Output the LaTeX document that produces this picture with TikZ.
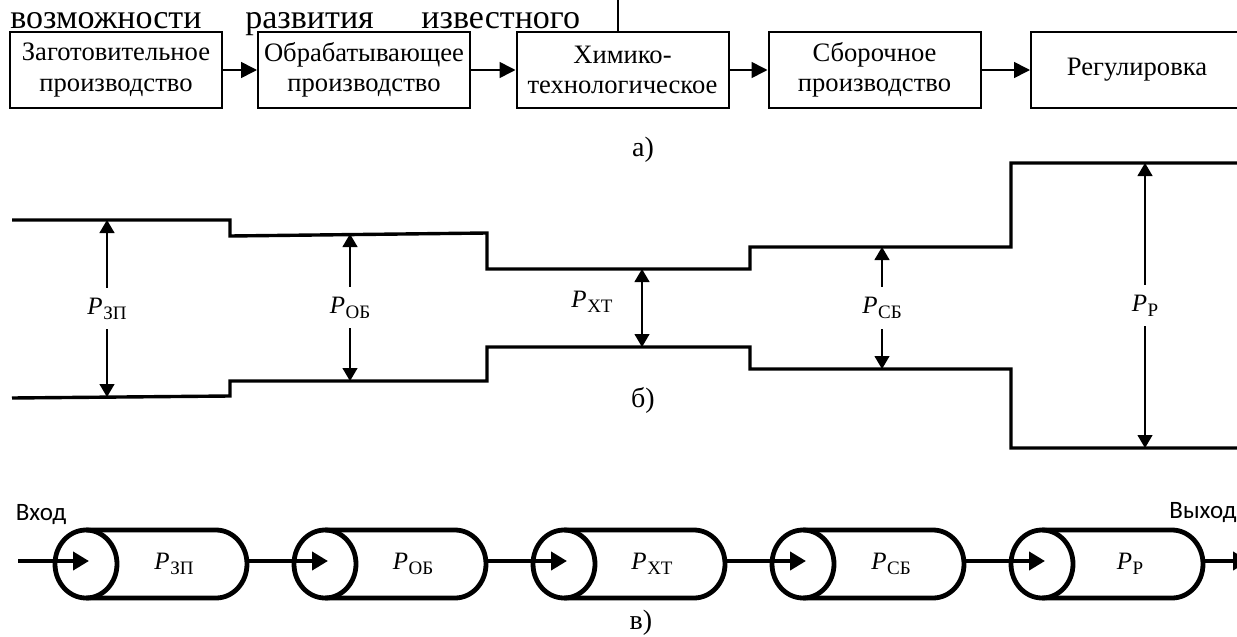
\documentclass[tikz,border=0pt]{standalone}
\usepackage{fontspec}
\setmainfont{Liberation Serif}
\newfontfamily\sanslabel{Carlito}
\usetikzlibrary{positioning,arrows.meta}

\newcommand{\Pidx}[1]{\textit{P}\kern0.3pt\raisebox{-0.45ex}{\fontsize{9.5}{10}\selectfont #1}}

\begin{document}
\begin{tikzpicture}[x=0.5pt,y=-0.5pt,
  stage/.style={draw,line width=1pt,minimum width=106pt,minimum height=38pt,inner sep=1pt,align=center,font=\fontsize{13.3}{15.3}\selectfont},
  stagelink/.style={-{Triangle[length=8pt,width=8pt]},line width=0.8pt},
  contour/.style={line width=1.7pt,line join=miter},
  dimarrow/.style={{Triangle[length=6.5pt,width=7.5pt]}-{Triangle[length=6.5pt,width=7.5pt]},line width=0.6pt},
  plabel/.style={fill=white,inner xsep=1pt,inner ysep=5pt,font=\fontsize{12.5}{14}\selectfont},
  pipe/.style={line width=2.4pt},
  flow/.style={-{Triangle[length=8pt,width=9pt]},line width=2.4pt},
  sublbl/.style={font=\fontsize{14}{16}\selectfont}]
\useasboundingbox (0,0) rectangle (1237,637);
\clip (0,0) rectangle (1237,637);

% text line above the scheme
\node[anchor=base west,inner sep=0,font=\fontsize{17}{20}\selectfont] (w1) at (10,28) {возможности};
\node[anchor=base west,inner sep=0,font=\fontsize{17}{20}\selectfont] (w2) at (245,28) {развития};
\node[anchor=base west,inner sep=0,font=\fontsize{17}{20}\selectfont] (w3) at (421,28) {известного};

% a) production stages
\node[stage] (zp) at (116,70) {Заготовительное\\производство};
\node[stage] (ob) at (364,70) {Обрабатывающее\\производство};
\node[stage] (hx) at (622.5,70) {Химико-\\технологическое};
\node[stage] (sb) at (874.5,70) {Сборочное\\производство};
\node[stage] (rg) at (1137,70) {Регулировка};
\draw[stagelink] (zp) -- (ob);
\draw[stagelink] (ob) -- (hx);
\draw[stagelink] (hx) -- (sb);
\draw[stagelink] (sb) -- (rg);
\coordinate (topedge) at (618,0);
\draw[line width=1pt] (topedge) -- (topedge |- hx.north);
\node[sublbl] (capa) at (643,150) {а)};

% b) capacity profile
\draw[contour] (12,220) -- (230,220) -- (230,236) -- (487,233) -- (487,269) -- (750,269)
  -- (750,247) -- (1011,247) -- (1011,163) -- (1240,163);
\draw[contour] (12,398) -- (230,396) -- (230,381) -- (487,381) -- (487,347) -- (750,347)
  -- (750,369) -- (1011,369) -- (1011,448) -- (1240,448);
\foreach \n/\x/\ya/\yb/\lab in {zp/107/220/397/ЗП, ob/350/234/381/ОБ, sb/882/247/369/СБ, rg/1145/163/448/Р}{
  \coordinate (\n T) at (\x,\ya);
  \coordinate (\n B) at (\x,\yb);
  \draw[dimarrow] (\n T) -- (\n B) node[midway,plabel] (\n P) {\Pidx{\lab}};
}
\coordinate (hxT) at (642,269);
\coordinate (hxB) at (642,347);
\draw[dimarrow] (hxT) -- (hxB);
\node[plabel] (hxP) at (592,302) {\Pidx{ХТ}};
\node[sublbl] (capb) at (643,400) {б)};

% c) chain of stages
\foreach \i/\lab in {0/ЗП,1/ОБ,2/ХТ,3/СБ,4/Р}{
  \pgfmathsetmacro\cx{86+239*\i}
  \draw[pipe] (\cx,564) ellipse [x radius=31,y radius=34];
  \draw[pipe] (\cx,530) -- (\cx+130,530) arc[start angle=-90,end angle=90,x radius=31,y radius=34] -- (\cx,598);
  \coordinate (in\i) at (\cx+3,561);
  \coordinate (out\i) at (\cx+161,561);
  \node[font=\fontsize{12.5}{14}\selectfont] (lab\i) at (\cx+88,564) {\Pidx{\lab}};
}
\coordinate (entry) at (18,561);
\coordinate (exit) at (1249,561);
\draw[flow] (entry) -- (in0);
\foreach \i [evaluate=\i as \j using int(\i+1)] in {0,...,3}
  \draw[flow] (out\i) -- (in\j);
\draw[flow] (out4) -- (exit);
\node[font=\sanslabel\fontsize{12.5}{14}\selectfont] (vhod) at (41,515) {Вход};
\node[anchor=west,inner sep=0,font=\sanslabel\fontsize{12.5}{14}\selectfont] (vyhod) at (1169,513) {Выход};
\node[sublbl] (capv) at (641,623) {в)};
\end{tikzpicture}
\end{document}
